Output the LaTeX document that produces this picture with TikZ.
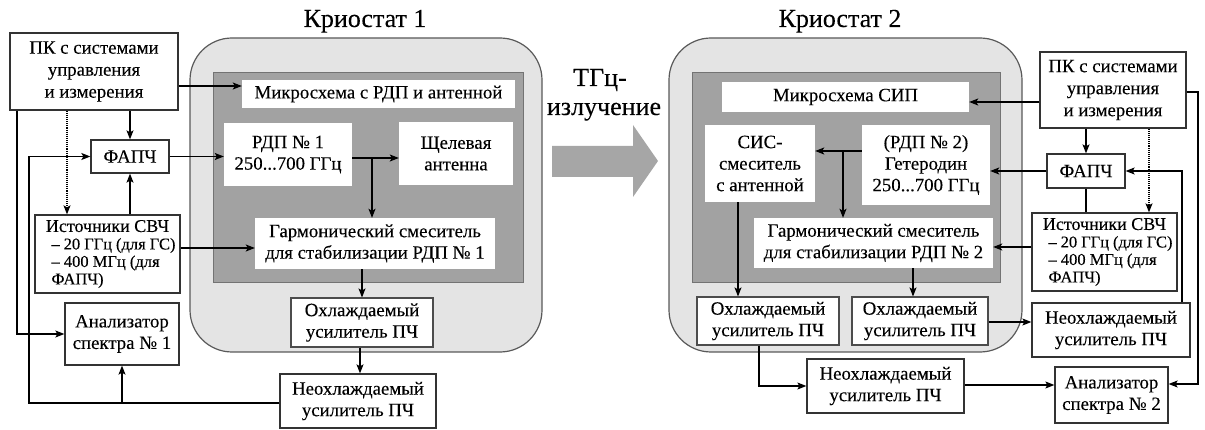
\documentclass[tikz,border=0pt]{standalone}
\usepackage{fontspec}
\setmainfont{Liberation Serif}[UprightFeatures={FakeBold=0.2}]
\usetikzlibrary{arrows.meta}
\definecolor{outerfill}{HTML}{E4E4E4}
\definecolor{innerfill}{HTML}{A2A2A2}
\definecolor{bigarrow}{HTML}{A6A6A6}
\begin{document}
\begin{tikzpicture}[x=1pt,y=-1pt,
  every node/.style={font=\fontsize{18.8}{21.5}\selectfont},
  ext/.style={draw=black!80, line width=1.3pt, fill=white, inner sep=0pt, align=center},
  inn/.style={draw=none, fill=white, inner sep=0pt, align=center},
  arr/.style={-{Stealth[length=9pt,width=7pt,inset=2pt]}, line width=1.1pt},
  ln/.style={line width=1.1pt},
  dotarr/.style={-{Stealth[length=9pt,width=7pt,inset=2pt]}, line width=1.1pt, densely dotted},
  cryo/.style={draw=black!65, line width=1.2pt, fill=outerfill, rounded corners=42pt},
  chip/.style={draw=black!55, line width=1pt, fill=innerfill},
  ttl/.style={font=\fontsize{26}{29}\selectfont, anchor=base},
  pcfont/.style={font=\fontsize{18.8}{22}\selectfont}
]
\useasboundingbox (0,0) rectangle (1205,430);

% ---------- cryostat bodies ----------
\path[cryo] (190,38) rectangle (542,352);
\path[chip] (213,73) rectangle (523,283);
\path[cryo] (669,38) rectangle (1022,352);
\path[chip] (692,73) rectangle (1000,283);

% big THz arrow
\fill[bigarrow] (552,146) -- (633,146) -- (633,125) -- (658,161) -- (633,197) -- (633,177) -- (552,177) -- cycle;

% titles
\node[ttl] (t1) at (365,27) {Криостат 1};
\node[ttl] (t2) at (840,27) {Криостат 2};
\node[ttl] (thz1) at (600,86) {ТГц-};
\node[ttl] (thz2) at (604,115) {излучение};

% ---------- left setup ----------
\node[ext, pcfont, minimum width=168, minimum height=77] (pc1) at (94,71.5) {ПК с системами\\управления\\и измерения};
\node[ext, minimum width=78, minimum height=33] (fapch1) at (130,156.5) {ФАПЧ};
\node[ext, minimum width=145, minimum height=78] (ist1) at (107.5,254)
  {\parbox{136pt}{\fontsize{18}{20}\selectfont\centering Источники СВЧ\par\raggedright\fontsize{16.5}{17.5}\selectfont\leftskip=12pt
   – 20 ГГц (для ГС)\\– 400 МГц (для\\ФАПЧ)}};
\node[ext, minimum width=114, minimum height=62] (an1) at (122,334) {Анализатор\\спектра № 1};
\node[inn, minimum width=273, minimum height=28] (mik1) at (378.5,94) {Микросхема с РДП и антенной};
\node[inn, minimum width=128, minimum height=63] (rdp1) at (288,154.5) {РДП № 1\\250...700 ГГц};
\node[inn, minimum width=114, minimum height=63] (shch) at (456,153.5) {Щелевая\\антенна};
\node[inn, minimum width=240, minimum height=51] (garm1) at (375,243.5) {Гармонический смеситель\\для стабилизации РДП № 1};
\node[ext, draw=black!70, line width=1.1pt, minimum width=142, minimum height=49] (okh1) at (362,322.5) {Охлаждаемый\\усилитель ПЧ};
\node[ext, minimum width=156, minimum height=54] (neokh1) at (358,401) {Неохлаждаемый\\усилитель ПЧ};

% left connectors
\draw[arr] (pc1.east |- 0,86) -- (mik1.west |- 0,86);
\draw[arr] (pc1.south -| fapch1.north) -- (fapch1.north);
\draw[dotarr] (pc1.south -| 67,0) -- (ist1.north -| 67,0);
\draw[arr] (ist1.north -| fapch1.south) -- (fapch1.south);
\draw[arr] (fapch1.east) -- (rdp1.west |- fapch1.east);
\draw[arr] (ist1.east |- 0,248) -- (garm1.west |- 0,248);
\draw[arr] (rdp1.east |- 0,158) -- (shch.west |- 0,158);
\coordinate (j1) at (372,158);
\draw[arr] (j1) -- (garm1.north -| j1);
\draw[arr] (garm1.south -| okh1.north) -- (okh1.north);
\draw[arr] (okh1.south -| 360,0) -- (neokh1.north -| 360,0);
\draw[arr] (pc1.south -| 17,0) |- (an1.west);
\draw[arr] (neokh1.west |- 0,403) -| (29,156.5) -- (fapch1.west);
\draw[arr] (an1.south |- 0,403) -- (an1.south);

% ---------- right setup ----------
\node[inn, minimum width=247, minimum height=30] (mik2) at (845.5,97) {Микросхема СИП};
\node[inn, minimum width=110, minimum height=77] (sis) at (760,163.5) {СИС-\\смеситель\\с антенной};
\node[inn, minimum width=128, minimum height=80] (get) at (926,165) {(РДП № 2)\\Гетеродин\\250...700 ГГц};
\node[inn, minimum width=239, minimum height=50] (garm2) at (873.5,243) {Гармонический смеситель\\для стабилизации РДП № 2};
\node[ext, draw=black!70, line width=1.1pt, minimum width=142, minimum height=48] (okh2a) at (768,321) {Охлаждаемый\\усилитель ПЧ};
\node[ext, draw=black!70, line width=1.1pt, minimum width=136, minimum height=48] (okh2b) at (920,321) {Охлаждаемый\\усилитель ПЧ};
\node[ext, minimum width=157, minimum height=54] (neokh2l) at (885.5,386) {Неохлаждаемый\\усилитель ПЧ};
\node[ext, pcfont, minimum width=146, minimum height=76] (pc2) at (1113,90) {ПК с системами\\управления\\и измерения};
\node[ext, minimum width=78, minimum height=34] (fapch2) at (1086,171) {ФАПЧ};
\node[ext, minimum width=145, minimum height=78] (ist2) at (1104.5,252)
  {\parbox{136pt}{\fontsize{18}{20}\selectfont\centering Источники СВЧ\par\raggedright\fontsize{16.5}{17.5}\selectfont\leftskip=12pt
   – 20 ГГц (для ГС)\\– 400 МГц (для\\ФАПЧ)}};
\node[ext, minimum width=158, minimum height=54] (neokh2r) at (1111,330) {Неохлаждаемый\\усилитель ПЧ};
\node[ext, minimum width=113, minimum height=56] (an2) at (1111.5,395) {Анализатор\\спектра № 2};

% right connectors
\draw[arr] (pc2.west |- 0,102) -- (mik2.east |- 0,102);
\draw[arr] (pc2.south -| fapch2.north) -- (fapch2.north);
\draw[dotarr] (pc2.south -| 1149,0) -- (ist2.north -| 1149,0);
\draw[ln] (fapch2.south) -- (ist2.north -| fapch2.south);
\draw[arr] (fapch2.west) -- (get.east |- fapch2.west);
\draw[arr] (ist2.west |- 0,247) -- (garm2.east |- 0,247);
\draw[arr] (get.west |- 0,151) -- (sis.east |- 0,151);
\coordinate (j2) at (843,151);
\draw[arr] (j2) -- (garm2.north -| j2);
\draw[arr] (sis.south -| 738,0) -- (okh2a.north -| 738,0);
\draw[arr] (garm2.south -| 913,0) -- (okh2b.north -| 913,0);
\draw[arr] (okh2a.south -| 759,0) |- (neokh2l.west);
\draw[arr] (neokh2l.east |- 0,385) -- (an2.west |- 0,385);
\draw[arr] (okh2b.east |- 0,322) -- (neokh2r.west |- 0,322);
\draw[arr] (pc2.east |- 0,92) -- (1198,92) -- (1198,384) -- (an2.east |- 0,384);
\draw[arr] (neokh2r.north -| 1182,0) |- (fapch2.east);
\end{tikzpicture}
\end{document}
